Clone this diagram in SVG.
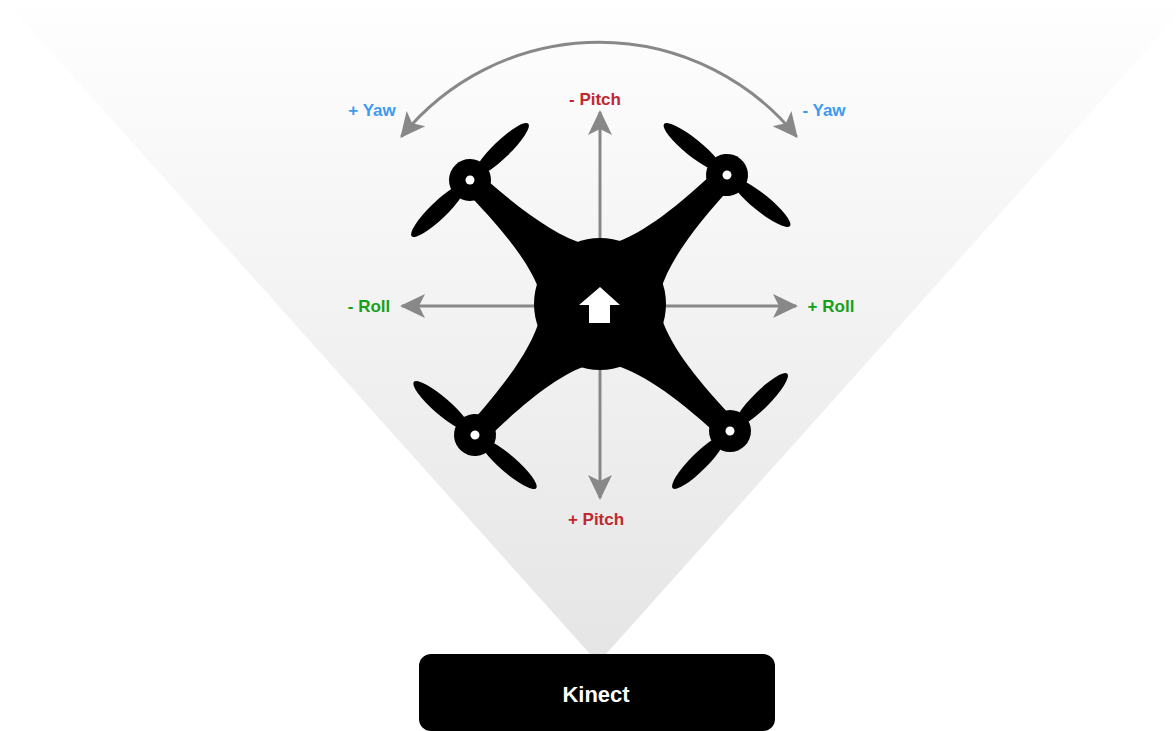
<svg xmlns="http://www.w3.org/2000/svg" width="1176" height="731" viewBox="0 0 1176 731">
  <defs>
    <linearGradient id="fov" x1="0" y1="8" x2="0" y2="663" gradientUnits="userSpaceOnUse">
      <stop offset="0" stop-color="#fefefe"/>
      <stop offset="1" stop-color="#e5e5e5"/>
    </linearGradient>
    <marker id="head" markerUnits="userSpaceOnUse" markerWidth="26" markerHeight="26" viewBox="0 0 26 26" refX="23" refY="13" orient="auto-start-reverse">
      <path d="M0,1 L25,13 L0,25 L6,13 Z" fill="#888888"/>
    </marker>
    <!-- one arm, motor at origin, hub centre at x=181 -->
    <path id="arm" d="M0,-11 C55,-13 100,-18 130,-34 L181,0 L130,34 C100,18 55,13 0,11 Z"/>
    <!-- one rotor: motor housing plus two-blade propeller along the x axis -->
    <g id="rotor">
      <ellipse cx="44" cy="0" rx="37" ry="8.5"/>
      <ellipse cx="-44" cy="0" rx="37" ry="8.5"/>
      <circle r="21"/>
      <circle r="4.5" fill="#ffffff"/>
    </g>
  </defs>
  <style>
    .axis { fill: none; stroke: #888888; stroke-width: 3; }
    .lbl { font-family: "Liberation Sans", Arial, sans-serif; font-weight: bold; font-size: 17px; text-anchor: middle; }
    .pitch { fill: #c1272d; }
    .roll { fill: #17a017; }
    .yaw { fill: #3d9bf0; }
  </style>

  <rect width="1176" height="731" fill="#ffffff"/>

  <!-- sensor field of view -->
  <polygon id="field-of-view" points="12,8 1184,8 598,663" fill="url(#fov)"/>

  <!-- motion axes -->
  <g id="connectors">
    <line class="axis" x1="600" y1="304" x2="600" y2="112" marker-end="url(#head)"/>
    <line class="axis" x1="600" y1="304" x2="600" y2="498" marker-end="url(#head)"/>
    <line class="axis" x1="600" y1="306" x2="402" y2="306" marker-end="url(#head)"/>
    <line class="axis" x1="600" y1="306" x2="796" y2="306" marker-end="url(#head)"/>
    <path class="axis" d="M401.5,136.5 A254,254 0 0 1 796.5,136.5" stroke-width="3.5" marker-start="url(#head)" marker-end="url(#head)"/>
  </g>

  <!-- quadcopter -->
  <g id="drone" fill="#000000">
    <use href="#arm" transform="translate(470,180) rotate(43.6)"/>
    <use href="#arm" transform="translate(727,175) rotate(134.5)"/>
    <use href="#arm" transform="translate(475,435) rotate(-46.3)"/>
    <use href="#arm" transform="translate(730,431) rotate(-135.7)"/>
    <use href="#rotor" transform="translate(470,180) rotate(-44)"/>
    <use href="#rotor" transform="translate(727,175) rotate(39)"/>
    <use href="#rotor" transform="translate(475,435) rotate(41)"/>
    <use href="#rotor" transform="translate(730,431) rotate(-45)"/>
    <circle cx="600" cy="304" r="66"/>
    <path d="M600,287 L620,305 L610,305 L610,323 L589,323 L589,305 L579,305 Z" fill="#ffffff"/>
  </g>

  <!-- axis labels -->
  <g id="labels">
    <text class="lbl pitch" x="595" y="105">- Pitch</text>
    <text class="lbl pitch" x="596" y="525">+ Pitch</text>
    <text class="lbl roll" x="369" y="312">- Roll</text>
    <text class="lbl roll" x="831" y="312">+ Roll</text>
    <text class="lbl yaw" x="372" y="116">+ Yaw</text>
    <text class="lbl yaw" x="824" y="116">- Yaw</text>
  </g>

  <!-- depth sensor -->
  <g id="kinect">
    <rect x="419" y="654" width="356" height="77" rx="12" fill="#000000"/>
    <text x="596" y="702" font-family="'Liberation Sans', Arial, sans-serif" font-weight="bold" font-size="22" fill="#ffffff" text-anchor="middle">Kinect</text>
  </g>
</svg>
